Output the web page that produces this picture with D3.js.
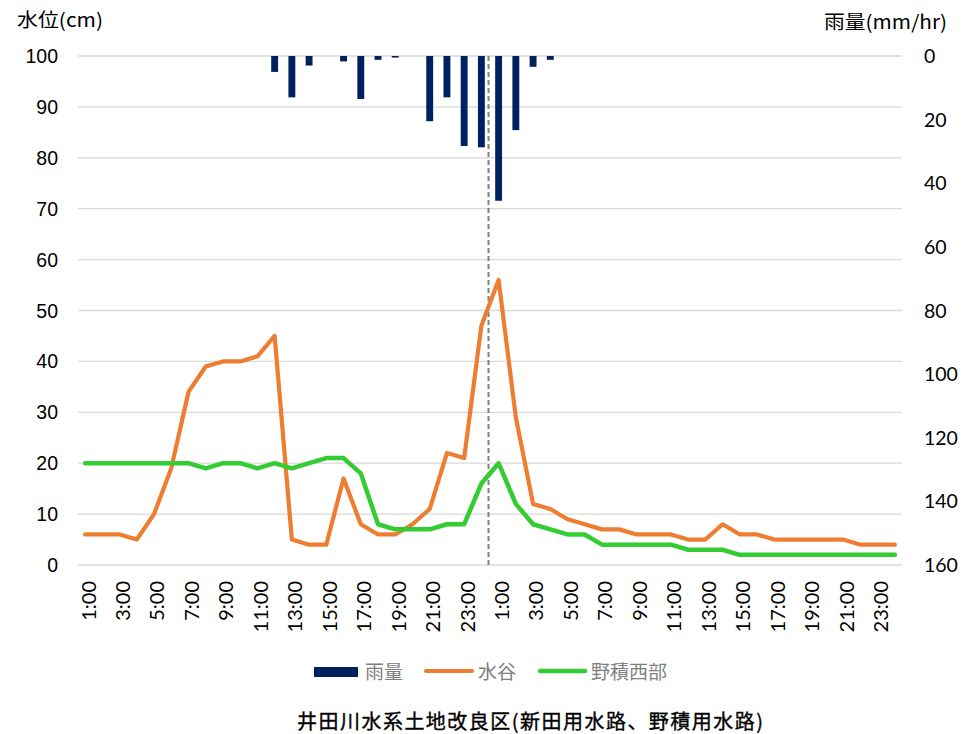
<!DOCTYPE html>
<html><head><meta charset="utf-8">
<script src="https://cdn.jsdelivr.net/npm/d3@7"></script>
<style>
body{margin:0;background:#fff;}
svg{display:block;}
</style></head>
<body>
<svg id="c" width="962" height="734"></svg>
<script>
// ---- data ----
const hours = ["1:00","2:00","3:00","4:00","5:00","6:00","7:00","8:00","9:00","10:00","11:00","12:00",
  "13:00","14:00","15:00","16:00","17:00","18:00","19:00","20:00","21:00","22:00","23:00","0:00"];
const categories = hours.concat(hours);
const rain = [0,0,0,0,0,0,0,0,0,0,0,5,
  13,3,0,1.7,13.5,1.2,0.5,0,20.5,13,28.3,28.7,
  45.5,23.3,3.4,1.2,0,0,0,0,0,0,0,0,
  0,0,0,0,0,0,0,0,0,0,0,0];
const mizutani = [6,6,6,5,10,19,34,39,40,40,41,45,
  5,4,4,17,8,6,6,8,11,22,21,47,
  56,29,12,11,9,8,7,7,6,6,6,5,
  5,8,6,6,5,5,5,5,5,4,4,4];
const nozumi = [20,20,20,20,20,20,20,19,20,20,19,20,
  19,20,21,21,18,8,7,7,7,8,8,16,
  20,12,8,7,6,6,4,4,4,4,4,3,
  3,3,2,2,2,2,2,2,2,2,2,2];
const leftTicks = [0,10,20,30,40,50,60,70,80,90,100];
const rightTicks = [0,20,40,60,80,100,120,140,160];
const seriesNames = ["雨量","水谷","野積西部"];
const colors = {rain:"#002060", mizutani:"#ED7D31", nozumi:"#33CC33"};

// ---- scales ----
const svg = d3.select("#c");
const x = d3.scaleBand().domain(d3.range(categories.length)).range([76.5, 903.5]);
const yL = d3.scaleLinear().domain([0,100]).range([565,56]);
const yR = d3.scaleLinear().domain([0,160]).range([56,565]);
const cx = i => x(i) + x.bandwidth()/2;

// gridlines
svg.append("g").selectAll("line").data(leftTicks).join("line")
  .attr("x1", 78).attr("x2", 902)
  .attr("y1", d => yL(d)).attr("y2", d => yL(d))
  .attr("stroke", "#d9d9d9").attr("stroke-width", 1.3);

// left axis labels
svg.append("g").selectAll("text").data(leftTicks).join("text")
  .attr("x", 58).attr("y", d => yL(d)).attr("dy","0.36em")
  .attr("text-anchor","end")
  .attr("font-family","Liberation Sans, Arial, sans-serif").attr("font-size",19.5)
  .attr("fill","#000").text(d => d);

// right axis labels
svg.append("g").selectAll("text").data(rightTicks).join("text")
  .attr("x", 924).attr("y", d => yR(d)).attr("dy","0.36em")
  .attr("text-anchor","start")
  .attr("font-family","Lato, Open Sans, sans-serif").attr("font-size",19.5)
  .attr("fill","#000").text(d => d);

// axis titles
svg.append("text").attr("x",17).attr("y",27)
  .attr("font-family","Noto Sans CJK JP, sans-serif").attr("font-size",19)
  .attr("textLength",86).attr("lengthAdjust","spacingAndGlyphs")
  .attr("fill","#000").text("水位(cm)");
svg.append("text").attr("x",824).attr("y",29)
  .attr("font-family","Noto Sans CJK JP, sans-serif").attr("font-size",19)
  .attr("textLength",123).attr("lengthAdjust","spacingAndGlyphs")
  .attr("fill","#000").text("雨量(mm/hr)");

// x labels
svg.append("g").selectAll("text").data(categories.map((c,i)=>({c,i})).filter(d => d.i % 2 === 0)).join("text")
  .attr("transform", d => `translate(${cx(d.i)},581) rotate(-90)`)
  .attr("dy","0.52em").attr("text-anchor","end")
  .attr("font-family","Lato, Open Sans, sans-serif").attr("font-size",20)
  .attr("fill","#000").text(d => d.c);

// rain bars (hanging from top)
const bw = x.bandwidth()*0.4;
svg.append("g").selectAll("rect").data(rain.map((v,i)=>({v,i})).filter(d => d.v > 0)).join("rect")
  .attr("x", d => cx(d.i) - bw/2).attr("width", bw)
  .attr("y", yR(0)).attr("height", d => yR(d.v) - yR(0))
  .attr("fill", colors.rain);

// dashed day separator
svg.append("line")
  .attr("x1", x(24) - 1.5).attr("x2", x(24) - 1.5)
  .attr("y1", yL(100)).attr("y2", yL(0))
  .attr("stroke","#808080").attr("stroke-width",2).attr("stroke-dasharray","5,3");

// lines
const line = d3.line().x((d,i)=>cx(i)).y(d=>yL(d));
svg.append("path").datum(mizutani).attr("d", line)
  .attr("fill","none").attr("stroke",colors.mizutani).attr("stroke-width",4.2)
  .attr("stroke-linejoin","round").attr("stroke-linecap","round");
svg.append("path").datum(nozumi).attr("d", line)
  .attr("fill","none").attr("stroke",colors.nozumi).attr("stroke-width",4.5)
  .attr("stroke-linejoin","round").attr("stroke-linecap","round");

// legend
const lg = svg.append("g").attr("font-family","Noto Sans CJK JP, sans-serif").attr("font-size",19).attr("fill","#7f7f7f");
lg.append("rect").attr("x",314).attr("y",667).attr("width",44).attr("height",10).attr("fill",colors.rain);
lg.append("text").attr("x",365).attr("y",672).attr("dy","0.36em").text(seriesNames[0]);
lg.append("line").attr("x1",426).attr("x2",472).attr("y1",671).attr("y2",671)
  .attr("stroke",colors.mizutani).attr("stroke-width",4.2).attr("stroke-linecap","round");
lg.append("text").attr("x",478).attr("y",672).attr("dy","0.36em").text(seriesNames[1]);
lg.append("line").attr("x1",540).attr("x2",585).attr("y1",671).attr("y2",671)
  .attr("stroke",colors.nozumi).attr("stroke-width",4.5).attr("stroke-linecap","round");
lg.append("text").attr("x",591).attr("y",672).attr("dy","0.36em").text(seriesNames[2]);

// title at bottom
svg.append("text").attr("x",297).attr("y",722).attr("dy","0.36em")
  .attr("font-family","Noto Sans CJK JP, sans-serif").attr("font-size",20).attr("font-weight",400)
  .attr("stroke","#000").attr("stroke-width",0.35)
  .attr("textLength",466).attr("lengthAdjust","spacing")
  .attr("fill","#000").text("井田川水系土地改良区(新田用水路、野積用水路)");
</script>
</body></html>
